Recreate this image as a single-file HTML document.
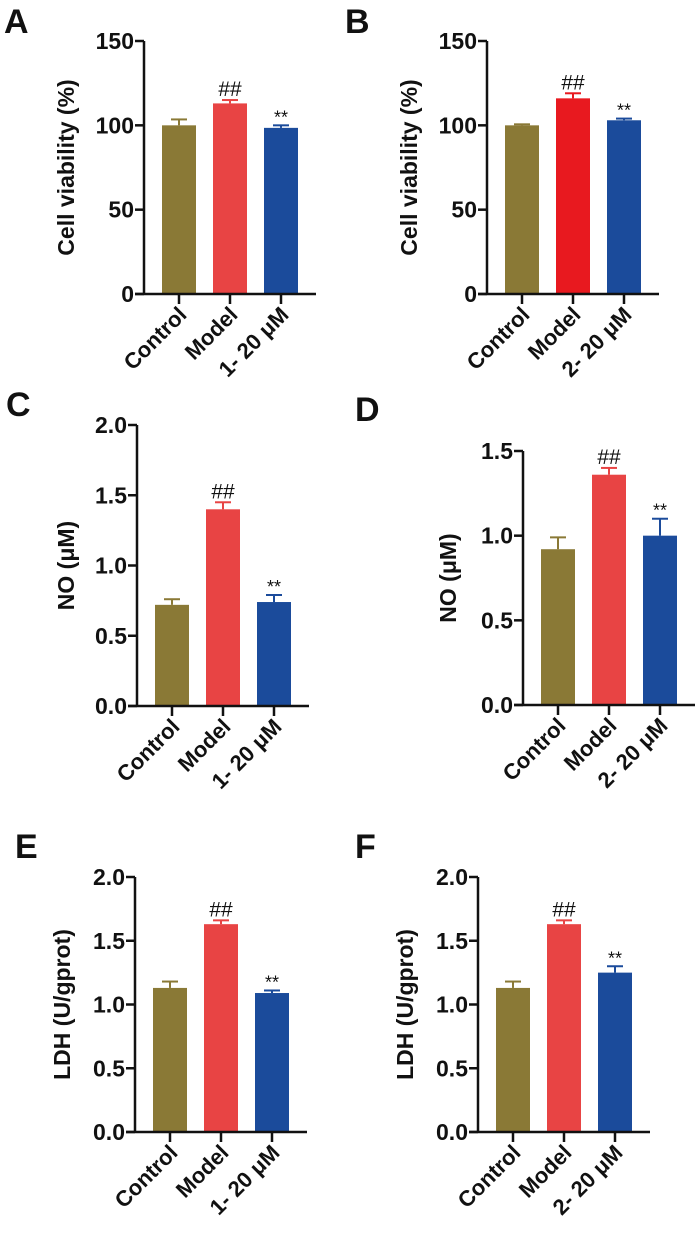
<!DOCTYPE html>
<html><head><meta charset="utf-8"><style>
html,body{margin:0;padding:0;background:#fff;}
svg{display:block;font-family:"Liberation Sans",Arial,sans-serif;}
</style></head><body>
<svg id="fig" width="700" height="1235" viewBox="0 0 700 1235"></svg>
<script>
const categoriesA = ["Control","Model","1- 20 μM"];
const categoriesB = ["Control","Model","2- 20 μM"];
const valuesA = [100, 113, 98.5];   const errA = [3.5, 2, 1.5];
const valuesB = [100, 116, 103];    const errB = [0.6, 3, 1];
const valuesC = [0.72, 1.40, 0.74]; const errC = [0.04, 0.05, 0.05];
const valuesD = [0.92, 1.36, 1.00]; const errD = [0.07, 0.04, 0.10];
const valuesE = [1.13, 1.63, 1.09]; const errE = [0.05, 0.03, 0.02];
const valuesF = [1.13, 1.63, 1.25]; const errF = [0.05, 0.03, 0.05];
const ticksViability = ["0","50","100","150"];
const ticksNO_C = ["0.0","0.5","1.0","1.5","2.0"];
const ticksNO_D = ["0.0","0.5","1.0","1.5"];
const ticksLDH = ["0.0","0.5","1.0","1.5","2.0"];
const annotations = ["","##","**"];

const NS="http://www.w3.org/2000/svg";
const svg=document.getElementById('fig');
function mk(tag,attrs,parent){const e=document.createElementNS(NS,tag);for(const k in attrs)e.setAttribute(k,attrs[k]);(parent||svg).appendChild(e);return e;}

const panels=[
 {id:'a',letter:'A',lx:4,ly:33,ax:144,top:41,bot:294,max:150,ticks:ticksViability,vals:valuesA,err:errA,cats:categoriesA,title:'Cell viability (%)',tx:74,colors:['#8a7936','#e84444','#1b4b9b']},
 {id:'b',letter:'B',lx:345,ly:33,ax:487,top:41,bot:294,max:150,ticks:ticksViability,vals:valuesB,err:errB,cats:categoriesB,title:'Cell viability (%)',tx:417,colors:['#8a7936','#e8191f','#1b4b9b']},
 {id:'c',letter:'C',lx:6,ly:416,ax:137,top:425,bot:706,max:2,ticks:ticksNO_C,vals:valuesC,err:errC,cats:categoriesA,title:'NO (μM)',tx:74,colors:['#8a7936','#e84444','#1b4b9b']},
 {id:'d',letter:'D',lx:355,ly:421,ax:523,top:451,bot:705,max:1.5,ticks:ticksNO_D,vals:valuesD,err:errD,cats:categoriesB,title:'NO (μM)',tx:456,colors:['#8a7936','#e84444','#1b4b9b']},
 {id:'e',letter:'E',lx:15,ly:858,ax:135,top:877,bot:1132,max:2,ticks:ticksLDH,vals:valuesE,err:errE,cats:categoriesA,title:'LDH (U/gprot)',tx:70,colors:['#8a7936','#e84444','#1b4b9b']},
 {id:'f',letter:'F',lx:355,ly:858,ax:478,top:877,bot:1132,max:2,ticks:ticksLDH,vals:valuesF,err:errF,cats:categoriesB,title:'LDH (U/gprot)',tx:413,colors:['#8a7936','#e84444','#1b4b9b']}
];

panels.forEach(p=>{
  const g=mk('g',{});
  
  
  const y=v=>p.bot-(v/p.max)*(p.bot-p.top);
  const bx=i=>p.ax+18+i*51;
  const L=mk('text',{x:p.lx,y:p.ly,'font-size':34,'font-weight':'bold',fill:'#111'},g);L.textContent=p.letter;
  
  p.vals.forEach((v,i)=>{
    const cx=bx(i)+17, yt=y(v), ye=y(v+p.err[i]);
    const ebar=mk('line',{x1:cx,x2:cx,y1:yt,y2:ye,stroke:p.colors[i],'stroke-width':2},g);
    
    mk('line',{x1:cx-8,x2:cx+8,y1:ye,y2:ye,stroke:p.colors[i],'stroke-width':2},g);
    const r=mk('rect',{x:bx(i),y:yt,width:34,height:p.bot-yt,fill:p.colors[i]},g);
    
    
    if(annotations[i]){
      const isH=annotations[i]=='##';
      const a=mk('text',{x:cx,y:ye-(isH?4:2),'text-anchor':'middle','font-size':isH?21:18,fill:'#111'},g);
      a.textContent=annotations[i];
      
    }
    const xl=mk('text',{x:0,y:0,transform:`translate(${cx+9},${p.bot+22}) rotate(-45)`,'text-anchor':'end','font-size':22,'font-weight':'bold',fill:'#111'},g);
    xl.textContent=p.cats[i];
    
    mk('line',{x1:cx,x2:cx,y1:p.bot,y2:p.bot+10,stroke:'#111','stroke-width':2.5},g);
  });
  const ya=mk('line',{x1:p.ax,x2:p.ax,y1:p.top,y2:p.bot,stroke:'#111','stroke-width':2.5},g);
  
  const xa=mk('line',{x1:p.ax-9,x2:p.ax+172,y1:p.bot,y2:p.bot,stroke:'#111','stroke-width':2.5},g);
  
  p.ticks.forEach((t,i)=>{
    const v=i*p.max/(p.ticks.length-1), yy=y(v);
    mk('line',{x1:p.ax-9,x2:p.ax,y1:yy,y2:yy,stroke:'#111','stroke-width':2.5},g);
    const tl=mk('text',{x:p.ax-10,y:yy+8,'text-anchor':'end','font-size':23,'font-weight':'bold',fill:'#111'},g);
    tl.textContent=t;
    
  });
  const cy=(p.top+p.bot)/2;
  const ti=mk('text',{x:0,y:0,transform:`translate(${p.tx},${cy}) rotate(-90)`,'text-anchor':'middle','font-size':23,'font-weight':'bold',fill:'#111'},g);
  ti.textContent=p.title;
  
});
</script>
</body></html>
